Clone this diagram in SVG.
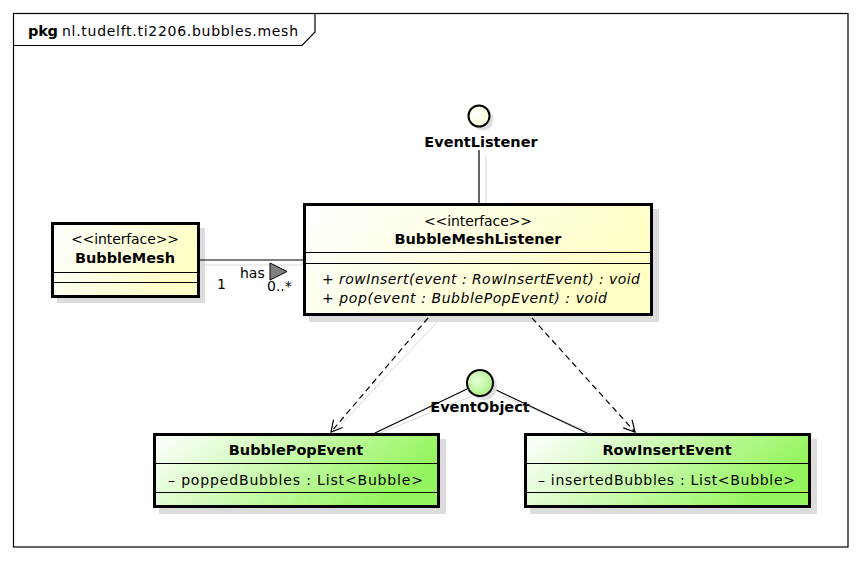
<svg xmlns="http://www.w3.org/2000/svg" width="862" height="561" viewBox="0 0 862 561">
<defs>
<linearGradient id="gy" x1="0" y1="0" x2="1" y2="0.3">
<stop offset="0" stop-color="#ffffff"/><stop offset="1" stop-color="#ffffc6"/>
</linearGradient>
<linearGradient id="gg" x1="0" y1="0" x2="1" y2="0.3">
<stop offset="0" stop-color="#ffffff"/><stop offset="1" stop-color="#95f55e"/>
</linearGradient>
<radialGradient id="cy" cx="0.4" cy="0.4" r="0.7"><stop offset="0" stop-color="#ffffff"/><stop offset="1" stop-color="#fbfbd2"/></radialGradient>
<radialGradient id="cg" cx="0.4" cy="0.4" r="0.7"><stop offset="0" stop-color="#e6ffd8"/><stop offset="1" stop-color="#a6f07e"/></radialGradient>
<marker id="open" markerWidth="14" markerHeight="14" refX="12" refY="7" orient="auto" markerUnits="userSpaceOnUse">
<path d="M1,1 L12,7 L1,13" fill="none" stroke="#000" stroke-width="1.2"/>
</marker>
</defs>
<style>
text{font-family:"DejaVu Sans","Liberation Sans",sans-serif;fill:#000}
.b{font-weight:bold;font-size:14.5px}
.r{font-size:14px}
.i{font-size:14px;font-style:italic}
.s{font-size:14px}
.box{stroke:#000;stroke-width:3}
.sh{fill:#dcdcdc}
.sep{stroke:#000;stroke-width:1}
.gl{stroke:#d8d8d8;stroke-width:1;fill:none}
.ln{stroke:#000;stroke-width:1.2;fill:none}
.dash{stroke:#000;stroke-width:1.2;fill:none;stroke-dasharray:6,4}
</style>
<rect width="862" height="561" fill="#fff"/>
<g id="frame">
<rect x="13.5" y="13.5" width="834.5" height="533.5" fill="none" stroke="#000" stroke-width="1.2"/>
<path d="M13.5,45.5 H302 L315,32 V13.5" fill="none" stroke="#000" stroke-width="1.2"/>
<text x="28" y="36" class="b" textLength="30">pkg</text>
<text x="62" y="36" class="r" textLength="236">nl.tudelft.ti2206.bubbles.mesh</text>
</g>
<g id="BubbleMesh">
<rect x="57" y="228" width="148" height="75" class="sh"/>
<rect x="52.5" y="223.5" width="146" height="73" fill="url(#gy)" class="box"/>
<line x1="52" y1="272.5" x2="199" y2="272.5" class="sep"/>
<line x1="52" y1="282.5" x2="199" y2="282.5" class="sep"/>
<text x="125" y="244" class="r" text-anchor="middle" textLength="108">&lt;&lt;interface&gt;&gt;</text>
<text x="125" y="263" class="b" text-anchor="middle">BubbleMesh</text>
</g>
<g id="BubbleMeshListener">
<rect x="309" y="209" width="350" height="113" class="sh"/>
<rect x="304.5" y="204.5" width="347" height="110" fill="url(#gy)" class="box"/>
<line x1="305" y1="252.5" x2="651" y2="252.5" class="sep"/>
<line x1="305" y1="263.5" x2="651" y2="263.5" class="sep"/>
<text x="478" y="226" class="r" text-anchor="middle" textLength="108">&lt;&lt;interface&gt;&gt;</text>
<text x="478" y="244" class="b" text-anchor="middle">BubbleMeshListener</text>
<text x="322" y="284" class="i" textLength="318">+ rowInsert(event : RowInsertEvent) : void</text>
<text x="322" y="303" class="i" textLength="285">+ pop(event : BubblePopEvent) : void</text>
</g>
<g id="BubblePopEvent">
<rect x="159" y="439" width="287" height="75" class="sh"/>
<rect x="154.5" y="434.5" width="284" height="72" fill="url(#gg)" class="box"/>
<line x1="155" y1="463.5" x2="438" y2="463.5" class="sep"/>
<line x1="155" y1="492.5" x2="438" y2="492.5" class="sep"/>
<text x="296" y="455" class="b" text-anchor="middle">BubblePopEvent</text>
<text x="168" y="485" class="r" textLength="255">– poppedBubbles : List&lt;Bubble&gt;</text>
</g>
<g id="RowInsertEvent">
<rect x="530" y="439" width="287" height="75" class="sh"/>
<rect x="525.5" y="434.5" width="284" height="72" fill="url(#gg)" class="box"/>
<line x1="526" y1="463.5" x2="809" y2="463.5" class="sep"/>
<line x1="526" y1="492.5" x2="809" y2="492.5" class="sep"/>
<text x="667" y="455" class="b" text-anchor="middle">RowInsertEvent</text>
<text x="538" y="485" class="r" textLength="257">– insertedBubbles : List&lt;Bubble&gt;</text>
</g>
<g id="connectors">
<line x1="200" y1="265" x2="303" y2="265" class="gl"/>
<line x1="200" y1="260" x2="303" y2="260" class="ln"/>
<line x1="486" y1="156" x2="486" y2="203" class="gl"/>
<line x1="479" y1="150" x2="479" y2="203" class="ln"/>
<line x1="437" y1="322" x2="333" y2="433" class="gl"/>
<line x1="428" y1="318" x2="331" y2="432" class="dash" marker-end="url(#open)"/>
<line x1="532" y1="318" x2="635" y2="432" class="dash" marker-end="url(#open)"/>
<line x1="472" y1="396" x2="380" y2="433" class="gl"/>
<line x1="467" y1="389" x2="375" y2="433" class="ln"/>
<line x1="502" y1="396" x2="592" y2="433" class="gl"/>
<line x1="494" y1="389" x2="587" y2="433" class="ln"/>
<text x="240" y="278" class="r">has</text>
<polygon points="270,263 287,271.5 270,280" fill="#808080" stroke="#000" stroke-width="1"/>
<text x="217" y="289" class="s">1</text>
<text x="267" y="291" class="s">0..*</text>
</g>
<g id="EventListener">
<circle cx="483" cy="120" r="10.5" fill="#dedede"/>
<circle cx="479" cy="116" r="10.5" fill="url(#cy)" stroke="#000" stroke-width="2"/>
<text x="481" y="147" class="b" text-anchor="middle">EventListener</text>
</g>
<g id="EventObject">
<circle cx="484" cy="387" r="13" fill="#dedede"/>
<circle cx="480" cy="383" r="13" fill="url(#cg)" stroke="#000" stroke-width="2"/>
<text x="480" y="412" class="b" text-anchor="middle">EventObject</text>
</g>
</svg>
